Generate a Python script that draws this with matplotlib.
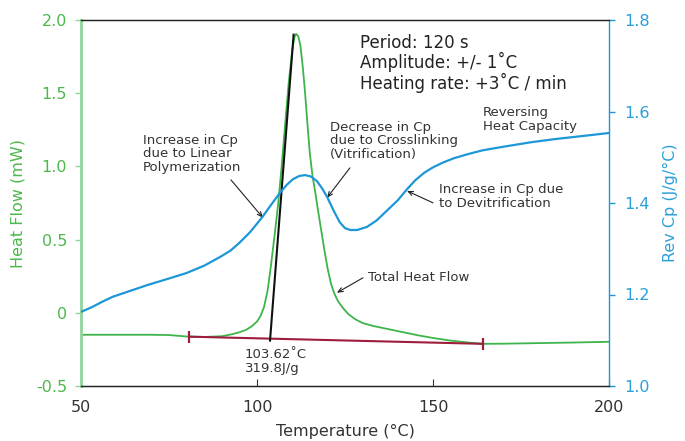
import matplotlib.pyplot as plt

# ---- data ----
temp_hf = [50, 60, 70, 75, 80, 85, 90, 93, 95, 97, 98.5, 100, 101, 102, 103, 104, 105, 106,
           107, 108, 109, 110, 110.6, 111.1, 111.7, 112.3, 113, 113.6, 114.3, 115, 115.8,
           116.5, 117.2, 118, 119, 120, 121, 122, 123, 124.5, 126, 128, 130, 133, 137, 141,
           146, 150, 155, 160, 164.2, 170, 180, 190, 200]
heat_flow = [-0.150, -0.150, -0.150, -0.152, -0.162, -0.165, -0.160, -0.146, -0.133, -0.115,
             -0.092, -0.060, -0.022, 0.040, 0.150, 0.330, 0.530, 0.740, 1.000, 1.290, 1.570,
             1.790, 1.880, 1.905, 1.890, 1.830, 1.680, 1.520, 1.300, 1.090, 0.930, 0.830,
             0.720, 0.600, 0.450, 0.310, 0.200, 0.130, 0.080, 0.030, -0.010, -0.045, -0.070,
             -0.090, -0.110, -0.130, -0.155, -0.172, -0.190, -0.203, -0.212, -0.211, -0.207,
             -0.203, -0.198]

temp_cp = [50, 53, 56, 59, 64, 69, 75, 80, 85, 89.5, 92.5, 95, 98, 101.5, 104, 106.5, 108.5,
           110.2, 112, 113.6, 115.3, 117, 118.5, 120, 121.6, 123.5, 125, 126.5, 128.5, 131.3,
           134, 137, 140, 142.6, 145, 147.5, 150, 153, 156, 160, 164, 170, 178, 185, 192, 200]
rev_cp = [1.162, 1.172, 1.184, 1.195, 1.208, 1.221, 1.235, 1.247, 1.263, 1.282, 1.296, 1.313,
          1.336, 1.369, 1.396, 1.422, 1.440, 1.452, 1.459, 1.461, 1.458, 1.448, 1.432, 1.412,
          1.386, 1.358, 1.345, 1.341, 1.341, 1.348, 1.362, 1.384, 1.406, 1.430, 1.450, 1.466,
          1.478, 1.489, 1.498, 1.507, 1.515, 1.523, 1.533, 1.540, 1.546, 1.553]

baseline_T = [80.7, 164.2]
baseline_hf = [-0.163, -0.212]
tangent_T = [103.7, 110.4]
tangent_hf = [-0.19, 1.90]

x_ticks = [50, 100, 150, 200]
hf_ticks = [-0.5, 0, 0.5, 1.0, 1.5, 2.0]
hf_tick_labels = ['-0.5', '0', '0.5', '1.0', '1.5', '2.0']
cp_ticks = [1.0, 1.2, 1.4, 1.6, 1.8]
cp_tick_labels = ['1.0', '1.2', '1.4', '1.6', '1.8']

# ---- styling ----
GREEN = '#3db54a'
GREEN_TXT = '#4cb84c'
GREEN_SPINE = '#8fd69b'
BLUE = '#1d97d7'
BLUE_TXT = '#2b9fd9'
RED = '#9e1c3c'
TXT = '#333333'

plt.rcParams['font.family'] = ['DejaVu Sans']

fig = plt.figure(figsize=(6.85, 4.41), dpi=100)
W, H = 685, 441
ax = fig.add_axes([81 / W, 1 - 386 / H, (609 - 81) / W, 366 / H])
ax2 = ax.twinx()

ax.plot(temp_hf, heat_flow, color=GREEN, lw=1.3, zorder=2)
ax.plot(baseline_T, baseline_hf, color=RED, lw=1.5, zorder=3)
ax.plot(baseline_T, baseline_hf, ls='none', marker='|', ms=8, mew=1.6, color=RED, zorder=3)
ax.plot(tangent_T, tangent_hf, color='#111111', lw=1.5, zorder=4)
ax2.plot(temp_cp, rev_cp, color=BLUE, lw=1.6, zorder=2)

ax.set_xlim(50, 200)
ax.set_ylim(-0.5, 2.0)
ax2.set_ylim(1.0, 1.8)

ax.set_xticks(x_ticks)
ax.set_xticklabels([str(t) for t in x_ticks])
ax.set_yticks(hf_ticks)
ax.set_yticklabels(hf_tick_labels)
ax2.set_yticks(cp_ticks)
ax2.set_yticklabels(cp_tick_labels)

ax.tick_params(axis='x', direction='in', length=5, width=0.8, colors=TXT, labelsize=11.5, pad=10)
ax.tick_params(axis='y', direction='out', length=4, width=1, color=GREEN_SPINE,
               labelcolor=GREEN_TXT, labelsize=11.5, pad=6)
ax2.tick_params(axis='y', direction='out', length=4, width=1, color=BLUE,
                labelcolor=BLUE_TXT, labelsize=11.5, pad=7)

for a in (ax, ax2):
    a.spines['top'].set_color('#222222')
    a.spines['bottom'].set_color('#222222')
    a.spines['top'].set_linewidth(0.9)
    a.spines['bottom'].set_linewidth(0.9)
ax.spines['left'].set_color(GREEN_SPINE)
ax.spines['left'].set_linewidth(2)
ax2.spines['left'].set_visible(False)
ax.spines['right'].set_visible(False)
ax2.spines['right'].set_color(BLUE)
ax2.spines['right'].set_linewidth(1)

ax.set_xlabel('Temperature (°C)', color=TXT, fontsize=11.5)
ax.xaxis.set_label_coords(0.5, -0.104)
ax.set_ylabel('Heat Flow (mW)', color=GREEN_TXT, fontsize=11.5)
ax.yaxis.set_label_coords(-0.106, 0.5)
ax2.set_ylabel('Rev Cp (J/g/°C)', color=BLUE_TXT, fontsize=11.5)
ax2.yaxis.set_label_coords(1.102, 0.5)

# ---- annotations (in heat-flow data coordinates) ----
ax.text(129.3, 1.703, 'Period: 120 s\nAmplitude: +/- 1˚C\nHeating rate: +3˚C / min',
        ha='left', va='center', fontsize=12, color='#222222', linespacing=1.05, zorder=5)
ax.text(164.2, 1.322, 'Reversing\nHeat Capacity', ha='left', va='center', fontsize=9.5,
        color=TXT, linespacing=1.05, zorder=5)
ax.text(120.7, 1.175, 'Decrease in Cp\ndue to Crosslinking\n(Vitrification)', ha='left',
        va='center', fontsize=9.5, color=TXT, linespacing=1.05, zorder=5)
ax.text(151.7, 0.796, 'Increase in Cp due\nto Devitrification', ha='left', va='center',
        fontsize=9.5, color=TXT, linespacing=1.05, zorder=5)
ax.text(67.6, 1.086, 'Increase in Cp\ndue to Linear\nPolymerization', ha='left', va='center',
        fontsize=9.5, color=TXT, linespacing=1.05, zorder=5)
ax.text(131.5, 0.239, 'Total Heat Flow', ha='left', va='center', fontsize=9.5, color=TXT,
        zorder=5)
ax.text(96.6, -0.331, '103.62˚C\n319.8J/g', ha='left', va='center', fontsize=9.5, color=TXT,
        linespacing=1.05, zorder=5)

arrow = dict(arrowstyle='->,head_length=0.35,head_width=0.15', color='#222222', lw=0.8,
             shrinkA=0, shrinkB=0)
ax.annotate('', xy=(101.7, 0.649), xytext=(92.6, 0.908), arrowprops=arrow, zorder=5)
ax.annotate('', xy=(119.9, 0.786), xytext=(126.4, 0.99), arrowprops=arrow, zorder=5)
ax.annotate('', xy=(142.6, 0.833), xytext=(150.0, 0.751), arrowprops=arrow, zorder=5)
ax.annotate('', xy=(122.7, 0.137), xytext=(130.1, 0.239), arrowprops=arrow, zorder=5)

fig.savefig('out.png', dpi=100)
